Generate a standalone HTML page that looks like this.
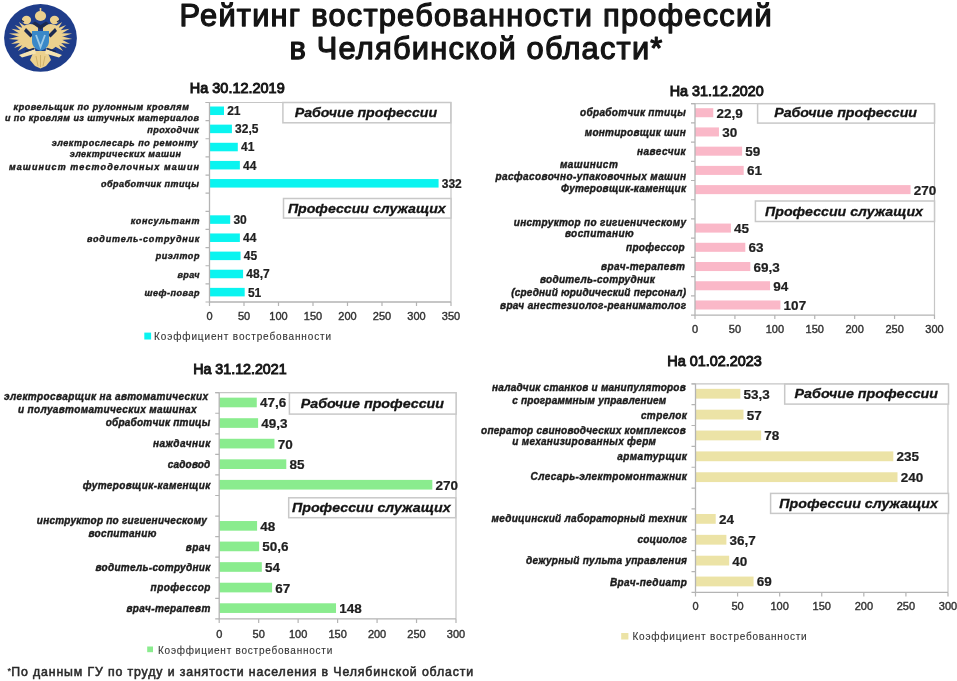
<!DOCTYPE html>
<html><head><meta charset="utf-8"><title>Рейтинг востребованности профессий</title>
<style>
html,body{margin:0;padding:0;background:#fff;}
body{width:957px;height:681px;overflow:hidden;}
svg{display:block;font-family:"Liberation Sans", sans-serif;filter:blur(0.35px);}
</style></head><body>
<svg width="957" height="681" viewBox="0 0 957 681">
<rect width="957" height="681" fill="#fff"/>
<ellipse cx="40.5" cy="37.9" rx="36.4" ry="33.8" fill="#1f3d8a"/><path d="M26.83 38.56L17.93 51.02L31.25 43.47Z" fill="#ecd18e"/><path d="M26.65 37.08L14.13 47.96L29.90 42.83Z" fill="#ecd18e"/><path d="M26.80 35.60L10.98 43.89L28.73 41.91Z" fill="#ecd18e"/><path d="M27.26 34.18L8.73 38.95L27.78 40.76Z" fill="#ecd18e"/><path d="M28.02 32.90L8.89 33.54L27.10 39.43Z" fill="#ecd18e"/><path d="M29.04 31.81L11.44 28.75L26.72 37.99Z" fill="#ecd18e"/><path d="M30.27 30.96L14.84 24.88L26.67 36.50Z" fill="#ecd18e"/><path d="M31.65 30.41L18.82 22.06L26.94 35.03Z" fill="#ecd18e"/><path d="M49.75 43.47L63.07 51.02L54.17 38.56Z" fill="#ecd18e"/><path d="M51.10 42.83L66.87 47.96L54.35 37.08Z" fill="#ecd18e"/><path d="M52.27 41.91L70.02 43.89L54.20 35.60Z" fill="#ecd18e"/><path d="M53.22 40.76L72.27 38.95L53.74 34.18Z" fill="#ecd18e"/><path d="M53.90 39.43L72.11 33.54L52.98 32.90Z" fill="#ecd18e"/><path d="M54.28 37.99L69.56 28.75L51.96 31.81Z" fill="#ecd18e"/><path d="M54.33 36.50L66.16 24.88L50.73 30.96Z" fill="#ecd18e"/><path d="M54.06 35.03L62.18 22.06L49.35 30.41Z" fill="#ecd18e"/><path d="M38 26 C30 22 24 24 20 30 C18 38 22 46 30 50 L38 47 Z" fill="#ecd18e"/><path d="M43 26 C51 22 57 24 61 30 C63 38 59 46 51 50 L43 47 Z" fill="#ecd18e"/><ellipse cx="26.5" cy="20" rx="4.6" ry="4.2" fill="#ecd18e"/><ellipse cx="54.5" cy="20" rx="4.6" ry="4.2" fill="#ecd18e"/><ellipse cx="40.5" cy="16" rx="5.6" ry="5" fill="#ecd18e"/><rect x="39.7" y="8" width="1.6" height="4.5" fill="#ecd18e"/><path d="M32 23.5 L40.5 29.5 L49 23.5 L46 21.5 L40.5 25 L35 21.5 Z" fill="#1c2a50"/><path d="M21 20 L24 22 M60 20 L57 22" stroke="#1c2a50" stroke-width="1.2"/><path d="M26 28 L33 35 L30.5 37.5 L24 31 Z M55 28 L48 35 L50.5 37.5 L57 31 Z" fill="#1c2a50"/><path d="M34 51 L30 60 L35 66 L40.5 68.5 L46 66 L51 60 L47 51 Z" fill="#ecd18e"/><path d="M36 56 L38 66 M40.5 55 V67 M45 56 L43 66" stroke="#c9a860" stroke-width="0.8"/><path d="M35 49 L19 55 L22 57.5 L36 53.5 Z M46 49 L62 55 L59 57.5 L45 53.5 Z" fill="#f4e2b0"/><path d="M25 51.5 L34 48.5 M56 51.5 L47 48.5" stroke="#1c2a50" stroke-width="1.4"/><path d="M32 31 H49 V41 C49 46.5 45 49.5 40.5 51 C36 49.5 32 46.5 32 41 Z" fill="#3a88c8"/><path d="M36 35 L40.5 47 L45 35" fill="none" stroke="#9dcbe8" stroke-width="1.8"/>
<text x="179.60" y="26.00" font-size="30.8" font-weight="normal" font-style="normal" fill="#141414" text-anchor="start" textLength="592.00" lengthAdjust="spacing" stroke="#141414" stroke-width="1.25" stroke-linejoin="round">Рейтинг востребованности профессий</text>
<text x="289.40" y="59.20" font-size="30.8" font-weight="normal" font-style="normal" fill="#141414" text-anchor="start" textLength="372.90" lengthAdjust="spacing" stroke="#141414" stroke-width="1.25" stroke-linejoin="round">в Челябинской области*</text>
<text x="189.80" y="92.70" font-size="15" font-weight="normal" font-style="normal" fill="#161616" text-anchor="start" textLength="94.90" lengthAdjust="spacingAndGlyphs" stroke="#161616" stroke-width="1.0">На 30.12.2019</text>
<path d="M205.50 102.50H451.00V302.00" fill="none" stroke="#c6c6c6" stroke-width="1.2"/>
<rect x="209.50" y="106.51" width="14.49" height="8.52" fill="#0af4f0"/>
<text x="227.19" y="115.21" font-size="12" font-weight="bold" font-style="normal" fill="#202020" text-anchor="start" stroke="#202020" stroke-width="0.2">21</text>
<rect x="209.50" y="124.64" width="22.42" height="8.52" fill="#0af4f0"/>
<text x="235.12" y="133.34" font-size="12" font-weight="bold" font-style="normal" fill="#202020" text-anchor="start" stroke="#202020" stroke-width="0.2">32,5</text>
<rect x="209.50" y="142.78" width="28.29" height="8.52" fill="#0af4f0"/>
<text x="240.99" y="151.48" font-size="12" font-weight="bold" font-style="normal" fill="#202020" text-anchor="start" stroke="#202020" stroke-width="0.2">41</text>
<rect x="209.50" y="160.92" width="30.36" height="8.52" fill="#0af4f0"/>
<text x="243.06" y="169.62" font-size="12" font-weight="bold" font-style="normal" fill="#202020" text-anchor="start" stroke="#202020" stroke-width="0.2">44</text>
<rect x="209.50" y="179.05" width="229.08" height="8.52" fill="#0af4f0"/>
<text x="441.78" y="187.75" font-size="12" font-weight="bold" font-style="normal" fill="#202020" text-anchor="start" stroke="#202020" stroke-width="0.2">332</text>
<rect x="209.50" y="215.32" width="20.70" height="8.52" fill="#0af4f0"/>
<text x="233.40" y="224.03" font-size="12" font-weight="bold" font-style="normal" fill="#202020" text-anchor="start" stroke="#202020" stroke-width="0.2">30</text>
<rect x="209.50" y="233.46" width="30.36" height="8.52" fill="#0af4f0"/>
<text x="243.06" y="242.16" font-size="12" font-weight="bold" font-style="normal" fill="#202020" text-anchor="start" stroke="#202020" stroke-width="0.2">44</text>
<rect x="209.50" y="251.60" width="31.05" height="8.52" fill="#0af4f0"/>
<text x="243.75" y="260.30" font-size="12" font-weight="bold" font-style="normal" fill="#202020" text-anchor="start" stroke="#202020" stroke-width="0.2">45</text>
<rect x="209.50" y="269.73" width="33.60" height="8.52" fill="#0af4f0"/>
<text x="246.30" y="278.44" font-size="12" font-weight="bold" font-style="normal" fill="#202020" text-anchor="start" stroke="#202020" stroke-width="0.2">48,7</text>
<rect x="209.50" y="287.87" width="35.19" height="8.52" fill="#0af4f0"/>
<text x="247.89" y="296.57" font-size="12" font-weight="bold" font-style="normal" fill="#202020" text-anchor="start" stroke="#202020" stroke-width="0.2">51</text>
<path d="M209.50 102.50V302.00H451.00" fill="none" stroke="#b4b4b4" stroke-width="1.3"/>
<path d="M205.50 102.50H209.50M205.50 120.64H209.50M205.50 138.77H209.50M205.50 156.91H209.50M205.50 175.05H209.50M205.50 193.18H209.50M205.50 211.32H209.50M205.50 229.45H209.50M205.50 247.59H209.50M205.50 265.73H209.50M205.50 283.86H209.50M205.50 302.00H209.50" stroke="#b4b4b4" stroke-width="1.2"/>
<path d="M209.50 302.00V306.00M244.00 302.00V306.00M278.50 302.00V306.00M313.00 302.00V306.00M347.50 302.00V306.00M382.00 302.00V306.00M416.50 302.00V306.00M451.00 302.00V306.00" stroke="#b4b4b4" stroke-width="1.2"/>
<text x="209.50" y="320.00" font-size="11" font-weight="normal" font-style="normal" fill="#333" text-anchor="middle" stroke="#333" stroke-width="0.4">0</text>
<text x="244.00" y="320.00" font-size="11" font-weight="normal" font-style="normal" fill="#333" text-anchor="middle" stroke="#333" stroke-width="0.4">50</text>
<text x="278.50" y="320.00" font-size="11" font-weight="normal" font-style="normal" fill="#333" text-anchor="middle" stroke="#333" stroke-width="0.4">100</text>
<text x="313.00" y="320.00" font-size="11" font-weight="normal" font-style="normal" fill="#333" text-anchor="middle" stroke="#333" stroke-width="0.4">150</text>
<text x="347.50" y="320.00" font-size="11" font-weight="normal" font-style="normal" fill="#333" text-anchor="middle" stroke="#333" stroke-width="0.4">200</text>
<text x="382.00" y="320.00" font-size="11" font-weight="normal" font-style="normal" fill="#333" text-anchor="middle" stroke="#333" stroke-width="0.4">250</text>
<text x="416.50" y="320.00" font-size="11" font-weight="normal" font-style="normal" fill="#333" text-anchor="middle" stroke="#333" stroke-width="0.4">300</text>
<text x="451.00" y="320.00" font-size="11" font-weight="normal" font-style="normal" fill="#333" text-anchor="middle" stroke="#333" stroke-width="0.4">350</text>
<rect x="282.90" y="102.50" width="167.90" height="20.30" fill="#fff" stroke="#c8c8c8" stroke-width="1.5"/>
<text x="294.70" y="116.60" font-size="13.5" font-weight="bold" font-style="italic" fill="#141414" text-anchor="start" textLength="142.40" lengthAdjust="spacingAndGlyphs" stroke="#141414" stroke-width="0.3">Рабочие профессии</text>
<rect x="283.50" y="198.50" width="167.50" height="19.60" fill="#fff" stroke="#c8c8c8" stroke-width="1.5"/>
<text x="287.90" y="212.80" font-size="13.5" font-weight="bold" font-style="italic" fill="#141414" text-anchor="start" textLength="157.80" lengthAdjust="spacingAndGlyphs" stroke="#141414" stroke-width="0.3">Профессии служащих</text>
<text x="13.50" y="109.70" font-size="9" font-weight="bold" font-style="italic" fill="#1c1c1c" text-anchor="start" textLength="175.30" lengthAdjust="spacing" stroke="#1c1c1c" stroke-width="0.4">кровельщик по рулонным кровлям</text>
<text x="4.90" y="120.90" font-size="9" font-weight="bold" font-style="italic" fill="#1c1c1c" text-anchor="start" textLength="194.00" lengthAdjust="spacing" stroke="#1c1c1c" stroke-width="0.4">и по кровлям из штучных материалов</text>
<text x="147.20" y="132.70" font-size="9" font-weight="bold" font-style="italic" fill="#1c1c1c" text-anchor="start" textLength="51.70" lengthAdjust="spacing" stroke="#1c1c1c" stroke-width="0.4">проходчик</text>
<text x="51.70" y="145.50" font-size="9" font-weight="bold" font-style="italic" fill="#1c1c1c" text-anchor="start" textLength="146.10" lengthAdjust="spacing" stroke="#1c1c1c" stroke-width="0.4">электрослесарь по ремонту</text>
<text x="69.70" y="156.80" font-size="9" font-weight="bold" font-style="italic" fill="#1c1c1c" text-anchor="start" textLength="111.20" lengthAdjust="spacing" stroke="#1c1c1c" stroke-width="0.4">электрических машин</text>
<text x="9.00" y="170.30" font-size="9" font-weight="bold" font-style="italic" fill="#1c1c1c" text-anchor="start" textLength="189.90" lengthAdjust="spacing" stroke="#1c1c1c" stroke-width="0.4">машинист тестоделочных машин</text>
<text x="101.00" y="186.70" font-size="9" font-weight="bold" font-style="italic" fill="#1c1c1c" text-anchor="start" textLength="97.90" lengthAdjust="spacing" stroke="#1c1c1c" stroke-width="0.4">обработчик птицы</text>
<text x="130.70" y="223.70" font-size="9" font-weight="bold" font-style="italic" fill="#1c1c1c" text-anchor="start" textLength="68.70" lengthAdjust="spacing" stroke="#1c1c1c" stroke-width="0.4">консультант</text>
<text x="87.00" y="241.50" font-size="9" font-weight="bold" font-style="italic" fill="#1c1c1c" text-anchor="start" textLength="112.40" lengthAdjust="spacing" stroke="#1c1c1c" stroke-width="0.4">водитель-сотрудник</text>
<text x="155.70" y="259.30" font-size="9" font-weight="bold" font-style="italic" fill="#1c1c1c" text-anchor="start" textLength="43.70" lengthAdjust="spacing" stroke="#1c1c1c" stroke-width="0.4">риэлтор</text>
<text x="177.50" y="277.90" font-size="9" font-weight="bold" font-style="italic" fill="#1c1c1c" text-anchor="start" textLength="21.90" lengthAdjust="spacing" stroke="#1c1c1c" stroke-width="0.4">врач</text>
<text x="144.40" y="295.60" font-size="9" font-weight="bold" font-style="italic" fill="#1c1c1c" text-anchor="start" textLength="55.00" lengthAdjust="spacing" stroke="#1c1c1c" stroke-width="0.4">шеф-повар</text>
<rect x="144.30" y="332.60" width="6.80" height="6.90" fill="#0af4f0"/>
<text x="154.10" y="340.10" font-size="10" font-weight="normal" font-style="normal" fill="#333" text-anchor="start" textLength="177.00" lengthAdjust="spacing" stroke="#333" stroke-width="0.1">Коэффициент востребованности</text>
<text x="669.70" y="95.70" font-size="15" font-weight="normal" font-style="normal" fill="#161616" text-anchor="start" textLength="94.10" lengthAdjust="spacingAndGlyphs" stroke="#161616" stroke-width="1.0">На 31.12.2020</text>
<path d="M691.00 103.60H934.50V315.10" fill="none" stroke="#c6c6c6" stroke-width="1.2"/>
<rect x="695.00" y="108.20" width="18.28" height="9.04" fill="#fab8c8"/>
<text x="716.48" y="117.71" font-size="13.5" font-weight="bold" font-style="normal" fill="#202020" text-anchor="start" stroke="#202020" stroke-width="0.2">22,9</text>
<rect x="695.00" y="127.42" width="23.95" height="9.04" fill="#fab8c8"/>
<text x="722.15" y="136.94" font-size="13.5" font-weight="bold" font-style="normal" fill="#202020" text-anchor="start" stroke="#202020" stroke-width="0.2">30</text>
<rect x="695.00" y="146.65" width="47.10" height="9.04" fill="#fab8c8"/>
<text x="745.30" y="156.16" font-size="13.5" font-weight="bold" font-style="normal" fill="#202020" text-anchor="start" stroke="#202020" stroke-width="0.2">59</text>
<rect x="695.00" y="165.88" width="48.70" height="9.04" fill="#fab8c8"/>
<text x="746.90" y="175.39" font-size="13.5" font-weight="bold" font-style="normal" fill="#202020" text-anchor="start" stroke="#202020" stroke-width="0.2">61</text>
<rect x="695.00" y="185.10" width="215.55" height="9.04" fill="#fab8c8"/>
<text x="913.75" y="194.62" font-size="13.5" font-weight="bold" font-style="normal" fill="#202020" text-anchor="start" stroke="#202020" stroke-width="0.2">270</text>
<rect x="695.00" y="223.56" width="35.92" height="9.04" fill="#fab8c8"/>
<text x="734.12" y="233.07" font-size="13.5" font-weight="bold" font-style="normal" fill="#202020" text-anchor="start" stroke="#202020" stroke-width="0.2">45</text>
<rect x="695.00" y="242.79" width="50.30" height="9.04" fill="#fab8c8"/>
<text x="748.50" y="252.30" font-size="13.5" font-weight="bold" font-style="normal" fill="#202020" text-anchor="start" stroke="#202020" stroke-width="0.2">63</text>
<rect x="695.00" y="262.01" width="55.32" height="9.04" fill="#fab8c8"/>
<text x="753.52" y="271.53" font-size="13.5" font-weight="bold" font-style="normal" fill="#202020" text-anchor="start" stroke="#202020" stroke-width="0.2">69,3</text>
<rect x="695.00" y="281.24" width="75.04" height="9.04" fill="#fab8c8"/>
<text x="773.24" y="290.75" font-size="13.5" font-weight="bold" font-style="normal" fill="#202020" text-anchor="start" stroke="#202020" stroke-width="0.2">94</text>
<rect x="695.00" y="300.47" width="85.42" height="9.04" fill="#fab8c8"/>
<text x="783.62" y="309.98" font-size="13.5" font-weight="bold" font-style="normal" fill="#202020" text-anchor="start" stroke="#202020" stroke-width="0.2">107</text>
<path d="M695.00 103.60V315.10H934.50" fill="none" stroke="#b4b4b4" stroke-width="1.3"/>
<path d="M691.00 103.60H695.00M691.00 122.83H695.00M691.00 142.05H695.00M691.00 161.28H695.00M691.00 180.51H695.00M691.00 199.74H695.00M691.00 218.96H695.00M691.00 238.19H695.00M691.00 257.42H695.00M691.00 276.65H695.00M691.00 295.87H695.00M691.00 315.10H695.00" stroke="#b4b4b4" stroke-width="1.2"/>
<path d="M695.00 315.10V319.10M734.92 315.10V319.10M774.83 315.10V319.10M814.75 315.10V319.10M854.67 315.10V319.10M894.58 315.10V319.10M934.50 315.10V319.10" stroke="#b4b4b4" stroke-width="1.2"/>
<text x="695.00" y="333.30" font-size="11" font-weight="normal" font-style="normal" fill="#333" text-anchor="middle" stroke="#333" stroke-width="0.4">0</text>
<text x="734.92" y="333.30" font-size="11" font-weight="normal" font-style="normal" fill="#333" text-anchor="middle" stroke="#333" stroke-width="0.4">50</text>
<text x="774.83" y="333.30" font-size="11" font-weight="normal" font-style="normal" fill="#333" text-anchor="middle" stroke="#333" stroke-width="0.4">100</text>
<text x="814.75" y="333.30" font-size="11" font-weight="normal" font-style="normal" fill="#333" text-anchor="middle" stroke="#333" stroke-width="0.4">150</text>
<text x="854.67" y="333.30" font-size="11" font-weight="normal" font-style="normal" fill="#333" text-anchor="middle" stroke="#333" stroke-width="0.4">200</text>
<text x="894.58" y="333.30" font-size="11" font-weight="normal" font-style="normal" fill="#333" text-anchor="middle" stroke="#333" stroke-width="0.4">250</text>
<text x="934.50" y="333.30" font-size="11" font-weight="normal" font-style="normal" fill="#333" text-anchor="middle" stroke="#333" stroke-width="0.4">300</text>
<rect x="757.60" y="103.70" width="176.90" height="19.40" fill="#fff" stroke="#c8c8c8" stroke-width="1.5"/>
<text x="774.20" y="117.30" font-size="13.5" font-weight="bold" font-style="italic" fill="#141414" text-anchor="start" textLength="142.80" lengthAdjust="spacingAndGlyphs" stroke="#141414" stroke-width="0.3">Рабочие профессии</text>
<rect x="755.40" y="201.00" width="179.10" height="20.50" fill="#fff" stroke="#c8c8c8" stroke-width="1.5"/>
<text x="765.10" y="215.50" font-size="13.5" font-weight="bold" font-style="italic" fill="#141414" text-anchor="start" textLength="157.90" lengthAdjust="spacingAndGlyphs" stroke="#141414" stroke-width="0.3">Профессии служащих</text>
<text x="580.10" y="116.10" font-size="10" font-weight="bold" font-style="italic" fill="#1c1c1c" text-anchor="start" textLength="105.60" lengthAdjust="spacing" stroke="#1c1c1c" stroke-width="0.4">обработчик птицы</text>
<text x="584.70" y="135.80" font-size="10" font-weight="bold" font-style="italic" fill="#1c1c1c" text-anchor="start" textLength="101.00" lengthAdjust="spacing" stroke="#1c1c1c" stroke-width="0.4">монтировщик шин</text>
<text x="637.00" y="154.70" font-size="10" font-weight="bold" font-style="italic" fill="#1c1c1c" text-anchor="start" textLength="48.70" lengthAdjust="spacing" stroke="#1c1c1c" stroke-width="0.4">навесчик</text>
<text x="559.90" y="167.70" font-size="10" font-weight="bold" font-style="italic" fill="#1c1c1c" text-anchor="start" textLength="57.90" lengthAdjust="spacing" stroke="#1c1c1c" stroke-width="0.4">машинист</text>
<text x="495.50" y="179.70" font-size="10" font-weight="bold" font-style="italic" fill="#1c1c1c" text-anchor="start" textLength="190.50" lengthAdjust="spacing" stroke="#1c1c1c" stroke-width="0.4">расфасовочно-упаковочных машин</text>
<text x="561.10" y="192.20" font-size="10" font-weight="bold" font-style="italic" fill="#1c1c1c" text-anchor="start" textLength="124.90" lengthAdjust="spacing" stroke="#1c1c1c" stroke-width="0.4">Футеровщик-каменщик</text>
<text x="513.70" y="226.40" font-size="10" font-weight="bold" font-style="italic" fill="#1c1c1c" text-anchor="start" textLength="172.30" lengthAdjust="spacing" stroke="#1c1c1c" stroke-width="0.4">инструктор по гигиеническому</text>
<text x="564.90" y="237.10" font-size="10" font-weight="bold" font-style="italic" fill="#1c1c1c" text-anchor="start" textLength="68.70" lengthAdjust="spacing" stroke="#1c1c1c" stroke-width="0.4">воспитанию</text>
<text x="626.00" y="250.90" font-size="10" font-weight="bold" font-style="italic" fill="#1c1c1c" text-anchor="start" textLength="58.70" lengthAdjust="spacing" stroke="#1c1c1c" stroke-width="0.4">профессор</text>
<text x="601.10" y="269.60" font-size="10" font-weight="bold" font-style="italic" fill="#1c1c1c" text-anchor="start" textLength="83.90" lengthAdjust="spacing" stroke="#1c1c1c" stroke-width="0.4">врач-терапевт</text>
<text x="539.90" y="283.30" font-size="10" font-weight="bold" font-style="italic" fill="#1c1c1c" text-anchor="start" textLength="114.90" lengthAdjust="spacing" stroke="#1c1c1c" stroke-width="0.4">водитель-сотрудник</text>
<text x="511.20" y="296.30" font-size="10" font-weight="bold" font-style="italic" fill="#1c1c1c" text-anchor="start" textLength="174.80" lengthAdjust="spacing" stroke="#1c1c1c" stroke-width="0.4">(средний юридический персонал)</text>
<text x="500.00" y="308.80" font-size="10" font-weight="bold" font-style="italic" fill="#1c1c1c" text-anchor="start" textLength="186.00" lengthAdjust="spacing" stroke="#1c1c1c" stroke-width="0.4">врач анестезиолог-реаниматолог</text>
<text x="193.20" y="374.40" font-size="15" font-weight="normal" font-style="normal" fill="#161616" text-anchor="start" textLength="93.40" lengthAdjust="spacingAndGlyphs" stroke="#161616" stroke-width="1.0">На 31.12.2021</text>
<path d="M215.20 392.70H456.00V618.90" fill="none" stroke="#c6c6c6" stroke-width="1.2"/>
<rect x="219.20" y="397.65" width="37.57" height="9.66" fill="#8aec8e"/>
<text x="259.97" y="407.48" font-size="13.5" font-weight="bold" font-style="normal" fill="#202020" text-anchor="start" stroke="#202020" stroke-width="0.2">47,6</text>
<rect x="219.20" y="418.21" width="38.91" height="9.66" fill="#8aec8e"/>
<text x="261.31" y="428.04" font-size="13.5" font-weight="bold" font-style="normal" fill="#202020" text-anchor="start" stroke="#202020" stroke-width="0.2">49,3</text>
<rect x="219.20" y="438.78" width="55.25" height="9.66" fill="#8aec8e"/>
<text x="277.65" y="448.60" font-size="13.5" font-weight="bold" font-style="normal" fill="#202020" text-anchor="start" stroke="#202020" stroke-width="0.2">70</text>
<rect x="219.20" y="459.34" width="67.09" height="9.66" fill="#8aec8e"/>
<text x="289.49" y="469.17" font-size="13.5" font-weight="bold" font-style="normal" fill="#202020" text-anchor="start" stroke="#202020" stroke-width="0.2">85</text>
<rect x="219.20" y="479.90" width="213.12" height="9.66" fill="#8aec8e"/>
<text x="435.52" y="489.73" font-size="13.5" font-weight="bold" font-style="normal" fill="#202020" text-anchor="start" stroke="#202020" stroke-width="0.2">270</text>
<rect x="219.20" y="521.03" width="37.89" height="9.66" fill="#8aec8e"/>
<text x="260.29" y="530.86" font-size="13.5" font-weight="bold" font-style="normal" fill="#202020" text-anchor="start" stroke="#202020" stroke-width="0.2">48</text>
<rect x="219.20" y="541.59" width="39.94" height="9.66" fill="#8aec8e"/>
<text x="262.34" y="551.42" font-size="13.5" font-weight="bold" font-style="normal" fill="#202020" text-anchor="start" stroke="#202020" stroke-width="0.2">50,6</text>
<rect x="219.20" y="562.16" width="42.62" height="9.66" fill="#8aec8e"/>
<text x="265.02" y="571.99" font-size="13.5" font-weight="bold" font-style="normal" fill="#202020" text-anchor="start" stroke="#202020" stroke-width="0.2">54</text>
<rect x="219.20" y="582.72" width="52.89" height="9.66" fill="#8aec8e"/>
<text x="275.29" y="592.55" font-size="13.5" font-weight="bold" font-style="normal" fill="#202020" text-anchor="start" stroke="#202020" stroke-width="0.2">67</text>
<rect x="219.20" y="603.29" width="116.82" height="9.66" fill="#8aec8e"/>
<text x="339.22" y="613.11" font-size="13.5" font-weight="bold" font-style="normal" fill="#202020" text-anchor="start" stroke="#202020" stroke-width="0.2">148</text>
<path d="M219.20 392.70V618.90H456.00" fill="none" stroke="#b4b4b4" stroke-width="1.3"/>
<path d="M215.20 392.70H219.20M215.20 413.26H219.20M215.20 433.83H219.20M215.20 454.39H219.20M215.20 474.95H219.20M215.20 495.52H219.20M215.20 516.08H219.20M215.20 536.65H219.20M215.20 557.21H219.20M215.20 577.77H219.20M215.20 598.34H219.20M215.20 618.90H219.20" stroke="#b4b4b4" stroke-width="1.2"/>
<path d="M219.20 618.90V622.90M258.67 618.90V622.90M298.13 618.90V622.90M337.60 618.90V622.90M377.07 618.90V622.90M416.53 618.90V622.90M456.00 618.90V622.90" stroke="#b4b4b4" stroke-width="1.2"/>
<text x="219.20" y="637.60" font-size="11" font-weight="normal" font-style="normal" fill="#333" text-anchor="middle" stroke="#333" stroke-width="0.4">0</text>
<text x="258.67" y="637.60" font-size="11" font-weight="normal" font-style="normal" fill="#333" text-anchor="middle" stroke="#333" stroke-width="0.4">50</text>
<text x="298.13" y="637.60" font-size="11" font-weight="normal" font-style="normal" fill="#333" text-anchor="middle" stroke="#333" stroke-width="0.4">100</text>
<text x="337.60" y="637.60" font-size="11" font-weight="normal" font-style="normal" fill="#333" text-anchor="middle" stroke="#333" stroke-width="0.4">150</text>
<text x="377.07" y="637.60" font-size="11" font-weight="normal" font-style="normal" fill="#333" text-anchor="middle" stroke="#333" stroke-width="0.4">200</text>
<text x="416.53" y="637.60" font-size="11" font-weight="normal" font-style="normal" fill="#333" text-anchor="middle" stroke="#333" stroke-width="0.4">250</text>
<text x="456.00" y="637.60" font-size="11" font-weight="normal" font-style="normal" fill="#333" text-anchor="middle" stroke="#333" stroke-width="0.4">300</text>
<rect x="289.40" y="392.80" width="166.70" height="21.30" fill="#fff" stroke="#c8c8c8" stroke-width="1.5"/>
<text x="300.80" y="408.20" font-size="13.5" font-weight="bold" font-style="italic" fill="#141414" text-anchor="start" textLength="143.20" lengthAdjust="spacingAndGlyphs" stroke="#141414" stroke-width="0.3">Рабочие профессии</text>
<rect x="288.70" y="497.80" width="167.00" height="19.90" fill="#fff" stroke="#c8c8c8" stroke-width="1.5"/>
<text x="292.00" y="512.20" font-size="13.5" font-weight="bold" font-style="italic" fill="#141414" text-anchor="start" textLength="158.60" lengthAdjust="spacingAndGlyphs" stroke="#141414" stroke-width="0.3">Профессии служащих</text>
<text x="4.10" y="400.00" font-size="10" font-weight="bold" font-style="italic" fill="#1c1c1c" text-anchor="start" textLength="203.90" lengthAdjust="spacing" stroke="#1c1c1c" stroke-width="0.4">электросварщик на автоматических</text>
<text x="17.90" y="412.60" font-size="10" font-weight="bold" font-style="italic" fill="#1c1c1c" text-anchor="start" textLength="178.70" lengthAdjust="spacing" stroke="#1c1c1c" stroke-width="0.4">и полуавтоматических машинах</text>
<text x="105.70" y="426.40" font-size="10" font-weight="bold" font-style="italic" fill="#1c1c1c" text-anchor="start" textLength="104.60" lengthAdjust="spacing" stroke="#1c1c1c" stroke-width="0.4">обработчик птицы</text>
<text x="152.90" y="447.10" font-size="10" font-weight="bold" font-style="italic" fill="#1c1c1c" text-anchor="start" textLength="57.40" lengthAdjust="spacing" stroke="#1c1c1c" stroke-width="0.4">наждачник</text>
<text x="167.80" y="467.80" font-size="10" font-weight="bold" font-style="italic" fill="#1c1c1c" text-anchor="start" textLength="42.50" lengthAdjust="spacing" stroke="#1c1c1c" stroke-width="0.4">садовод</text>
<text x="82.80" y="488.50" font-size="10" font-weight="bold" font-style="italic" fill="#1c1c1c" text-anchor="start" textLength="127.50" lengthAdjust="spacing" stroke="#1c1c1c" stroke-width="0.4">футеровщик-каменщик</text>
<text x="36.80" y="524.20" font-size="10" font-weight="bold" font-style="italic" fill="#1c1c1c" text-anchor="start" textLength="170.10" lengthAdjust="spacing" stroke="#1c1c1c" stroke-width="0.4">инструктор по гигиеническому</text>
<text x="88.50" y="536.80" font-size="10" font-weight="bold" font-style="italic" fill="#1c1c1c" text-anchor="start" textLength="67.80" lengthAdjust="spacing" stroke="#1c1c1c" stroke-width="0.4">воспитанию</text>
<text x="185.70" y="550.60" font-size="10" font-weight="bold" font-style="italic" fill="#1c1c1c" text-anchor="start" textLength="24.60" lengthAdjust="spacing" stroke="#1c1c1c" stroke-width="0.4">врач</text>
<text x="95.40" y="571.30" font-size="10" font-weight="bold" font-style="italic" fill="#1c1c1c" text-anchor="start" textLength="114.90" lengthAdjust="spacing" stroke="#1c1c1c" stroke-width="0.4">водитель-сотрудник</text>
<text x="150.60" y="591.30" font-size="10" font-weight="bold" font-style="italic" fill="#1c1c1c" text-anchor="start" textLength="59.70" lengthAdjust="spacing" stroke="#1c1c1c" stroke-width="0.4">профессор</text>
<text x="126.40" y="611.50" font-size="10" font-weight="bold" font-style="italic" fill="#1c1c1c" text-anchor="start" textLength="83.90" lengthAdjust="spacing" stroke="#1c1c1c" stroke-width="0.4">врач-терапевт</text>
<rect x="147.20" y="646.50" width="5.80" height="5.70" fill="#8aec8e"/>
<text x="158.00" y="653.50" font-size="10" font-weight="normal" font-style="normal" fill="#333" text-anchor="start" textLength="174.30" lengthAdjust="spacing" stroke="#333" stroke-width="0.1">Коэффициент востребованности</text>
<text x="667.30" y="366.20" font-size="15" font-weight="normal" font-style="normal" fill="#161616" text-anchor="start" textLength="94.60" lengthAdjust="spacingAndGlyphs" stroke="#161616" stroke-width="1.0">На 01.02.2023</text>
<path d="M691.50 383.80H948.00V592.40" fill="none" stroke="#c6c6c6" stroke-width="1.2"/>
<rect x="695.50" y="388.83" width="44.86" height="9.80" fill="#ece3a6"/>
<text x="743.56" y="398.73" font-size="13.5" font-weight="bold" font-style="normal" fill="#202020" text-anchor="start" stroke="#202020" stroke-width="0.2">53,3</text>
<rect x="695.50" y="409.69" width="47.98" height="9.80" fill="#ece3a6"/>
<text x="746.68" y="419.59" font-size="13.5" font-weight="bold" font-style="normal" fill="#202020" text-anchor="start" stroke="#202020" stroke-width="0.2">57</text>
<rect x="695.50" y="430.55" width="65.65" height="9.80" fill="#ece3a6"/>
<text x="764.35" y="440.44" font-size="13.5" font-weight="bold" font-style="normal" fill="#202020" text-anchor="start" stroke="#202020" stroke-width="0.2">78</text>
<rect x="695.50" y="451.41" width="197.79" height="9.80" fill="#ece3a6"/>
<text x="896.49" y="461.31" font-size="13.5" font-weight="bold" font-style="normal" fill="#202020" text-anchor="start" stroke="#202020" stroke-width="0.2">235</text>
<rect x="695.50" y="472.27" width="202.00" height="9.80" fill="#ece3a6"/>
<text x="900.70" y="482.16" font-size="13.5" font-weight="bold" font-style="normal" fill="#202020" text-anchor="start" stroke="#202020" stroke-width="0.2">240</text>
<rect x="695.50" y="513.99" width="20.20" height="9.80" fill="#ece3a6"/>
<text x="718.90" y="523.88" font-size="13.5" font-weight="bold" font-style="normal" fill="#202020" text-anchor="start" stroke="#202020" stroke-width="0.2">24</text>
<rect x="695.50" y="534.85" width="30.89" height="9.80" fill="#ece3a6"/>
<text x="729.59" y="544.75" font-size="13.5" font-weight="bold" font-style="normal" fill="#202020" text-anchor="start" stroke="#202020" stroke-width="0.2">36,7</text>
<rect x="695.50" y="555.71" width="33.67" height="9.80" fill="#ece3a6"/>
<text x="732.37" y="565.61" font-size="13.5" font-weight="bold" font-style="normal" fill="#202020" text-anchor="start" stroke="#202020" stroke-width="0.2">40</text>
<rect x="695.50" y="576.57" width="58.08" height="9.80" fill="#ece3a6"/>
<text x="756.78" y="586.47" font-size="13.5" font-weight="bold" font-style="normal" fill="#202020" text-anchor="start" stroke="#202020" stroke-width="0.2">69</text>
<path d="M695.50 383.80V592.40H948.00" fill="none" stroke="#b4b4b4" stroke-width="1.3"/>
<path d="M691.50 383.80H695.50M691.50 404.66H695.50M691.50 425.52H695.50M691.50 446.38H695.50M691.50 467.24H695.50M691.50 488.10H695.50M691.50 508.96H695.50M691.50 529.82H695.50M691.50 550.68H695.50M691.50 571.54H695.50M691.50 592.40H695.50" stroke="#b4b4b4" stroke-width="1.2"/>
<path d="M695.50 592.40V596.40M737.58 592.40V596.40M779.67 592.40V596.40M821.75 592.40V596.40M863.83 592.40V596.40M905.92 592.40V596.40M948.00 592.40V596.40" stroke="#b4b4b4" stroke-width="1.2"/>
<text x="695.50" y="610.30" font-size="11" font-weight="normal" font-style="normal" fill="#333" text-anchor="middle" stroke="#333" stroke-width="0.4">0</text>
<text x="737.58" y="610.30" font-size="11" font-weight="normal" font-style="normal" fill="#333" text-anchor="middle" stroke="#333" stroke-width="0.4">50</text>
<text x="779.67" y="610.30" font-size="11" font-weight="normal" font-style="normal" fill="#333" text-anchor="middle" stroke="#333" stroke-width="0.4">100</text>
<text x="821.75" y="610.30" font-size="11" font-weight="normal" font-style="normal" fill="#333" text-anchor="middle" stroke="#333" stroke-width="0.4">150</text>
<text x="863.83" y="610.30" font-size="11" font-weight="normal" font-style="normal" fill="#333" text-anchor="middle" stroke="#333" stroke-width="0.4">200</text>
<text x="905.92" y="610.30" font-size="11" font-weight="normal" font-style="normal" fill="#333" text-anchor="middle" stroke="#333" stroke-width="0.4">250</text>
<text x="948.00" y="610.30" font-size="11" font-weight="normal" font-style="normal" fill="#333" text-anchor="middle" stroke="#333" stroke-width="0.4">300</text>
<rect x="784.70" y="384.10" width="163.80" height="20.00" fill="#fff" stroke="#c8c8c8" stroke-width="1.5"/>
<text x="794.60" y="398.20" font-size="13.5" font-weight="bold" font-style="italic" fill="#141414" text-anchor="start" textLength="143.40" lengthAdjust="spacingAndGlyphs" stroke="#141414" stroke-width="0.3">Рабочие профессии</text>
<rect x="770.60" y="493.40" width="177.90" height="20.00" fill="#fff" stroke="#c8c8c8" stroke-width="1.5"/>
<text x="779.30" y="507.50" font-size="13.5" font-weight="bold" font-style="italic" fill="#141414" text-anchor="start" textLength="158.70" lengthAdjust="spacingAndGlyphs" stroke="#141414" stroke-width="0.3">Профессии служащих</text>
<text x="492.00" y="391.10" font-size="10" font-weight="bold" font-style="italic" fill="#1c1c1c" text-anchor="start" textLength="193.70" lengthAdjust="spacing" stroke="#1c1c1c" stroke-width="0.4">наладчик станков и манипуляторов</text>
<text x="512.20" y="403.80" font-size="10" font-weight="bold" font-style="italic" fill="#1c1c1c" text-anchor="start" textLength="154.00" lengthAdjust="spacing" stroke="#1c1c1c" stroke-width="0.4">с программным управлением</text>
<text x="640.90" y="418.70" font-size="10" font-weight="bold" font-style="italic" fill="#1c1c1c" text-anchor="start" textLength="46.00" lengthAdjust="spacing" stroke="#1c1c1c" stroke-width="0.4">стрелок</text>
<text x="481.10" y="433.70" font-size="10" font-weight="bold" font-style="italic" fill="#1c1c1c" text-anchor="start" textLength="204.60" lengthAdjust="spacing" stroke="#1c1c1c" stroke-width="0.4">оператор свиноводческих комплексов</text>
<text x="512.20" y="445.20" font-size="10" font-weight="bold" font-style="italic" fill="#1c1c1c" text-anchor="start" textLength="143.70" lengthAdjust="spacing" stroke="#1c1c1c" stroke-width="0.4">и механизированных ферм</text>
<text x="617.20" y="460.10" font-size="10" font-weight="bold" font-style="italic" fill="#1c1c1c" text-anchor="start" textLength="69.70" lengthAdjust="spacing" stroke="#1c1c1c" stroke-width="0.4">арматурщик</text>
<text x="530.60" y="479.60" font-size="10" font-weight="bold" font-style="italic" fill="#1c1c1c" text-anchor="start" textLength="156.30" lengthAdjust="spacing" stroke="#1c1c1c" stroke-width="0.4">Слесарь-электромонтажник</text>
<text x="491.50" y="522.20" font-size="10" font-weight="bold" font-style="italic" fill="#1c1c1c" text-anchor="start" textLength="195.40" lengthAdjust="spacing" stroke="#1c1c1c" stroke-width="0.4">медицинский лабораторный техник</text>
<text x="637.50" y="542.90" font-size="10" font-weight="bold" font-style="italic" fill="#1c1c1c" text-anchor="start" textLength="49.40" lengthAdjust="spacing" stroke="#1c1c1c" stroke-width="0.4">социолог</text>
<text x="526.00" y="563.60" font-size="10" font-weight="bold" font-style="italic" fill="#1c1c1c" text-anchor="start" textLength="160.90" lengthAdjust="spacing" stroke="#1c1c1c" stroke-width="0.4">дежурный пульта управления</text>
<text x="609.90" y="585.50" font-size="10" font-weight="bold" font-style="italic" fill="#1c1c1c" text-anchor="start" textLength="77.00" lengthAdjust="spacing" stroke="#1c1c1c" stroke-width="0.4">Врач-педиатр</text>
<rect x="621.20" y="633.00" width="7.20" height="6.50" fill="#ece3a6"/>
<text x="632.50" y="639.70" font-size="10" font-weight="normal" font-style="normal" fill="#333" text-anchor="start" textLength="174.20" lengthAdjust="spacing" stroke="#333" stroke-width="0.1">Коэффициент востребованности</text>
<text x="7.60" y="674.00" font-size="9" font-weight="bold" font-style="normal" fill="#2a2a2a" text-anchor="start">*</text>
<text x="11.20" y="676.30" font-size="12.3" font-weight="normal" font-style="normal" fill="#2a2a2a" text-anchor="start" textLength="462.00" lengthAdjust="spacing" stroke="#2a2a2a" stroke-width="0.55">По данным ГУ по труду и занятости населения в Челябинской области</text>
</svg>
</body></html>
